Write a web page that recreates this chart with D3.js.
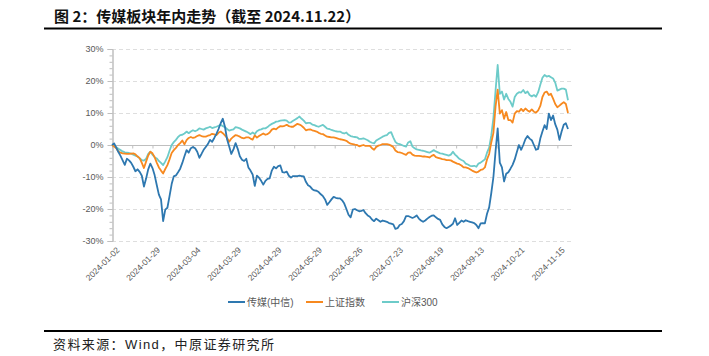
<!DOCTYPE html>
<html><head><meta charset="utf-8">
<script src="https://cdn.jsdelivr.net/npm/d3@7"></script>
<style>
html,body{margin:0;padding:0;background:#fff;}
svg{display:block;font-family:"Liberation Sans","Noto Sans CJK SC",sans-serif;}
</style></head>
<body>
<svg id="c" width="709" height="356"></svg>
<script>
// ---- data (trading-day index 0..214, 2024-01-02 .. 2024-11-22), cumulative % change ----
const tickLabels = ["2024-01-02","2024-01-29","2024-03-04","2024-03-29","2024-04-29","2024-05-29","2024-06-26","2024-07-23","2024-08-19","2024-09-13","2024-10-21","2024-11-15"];
const labelStep = 19; // trading days between labels
const seriesNames = ["传媒(中信)","上证指数","沪深300"];
const yTickValues = [30,20,10,0,-10,-20,-30];

const media = [0,0.5,-0.8,-2.2,-3.4,-4.8,-6.2,-4.3,-4.8,-5.6,
-6.8,-8.2,-7.6,-8.4,-9.6,-13.0,-10.5,-7.6,-5.8,-7.2,
-9.4,-12.5,-15.5,-17.0,-23.8,-20.2,-19.6,-16.0,-12.2,-9.8,
-9.5,-8.5,-7.4,-5.6,-3.5,-1.6,-2.4,-1.0,-0.6,-1.0,
-2.1,-4.0,-2.8,-1.5,-0.6,0.3,1.6,1.0,2.2,3.5,
5.0,6.8,8.2,5.7,1.8,-0.5,-2.8,-1.4,0.6,-1.2,
-3.5,-4.6,-5.0,-4.3,-7.0,-8.0,-9.2,-12.8,-9.6,-10.2,
-11.2,-12.4,-11.2,-10.6,-10.4,-8.0,-6.8,-7.3,-6.6,-6.4,
-8.5,-8.6,-8.3,-9.6,-10.2,-9.7,-9.7,-9.7,-9.6,-9.7,
-9.8,-11.5,-12.6,-13.0,-13.8,-14.2,-14.3,-14.7,-15.4,-16.0,
-17.0,-18.7,-17.9,-17.0,-16.2,-16.5,-16.7,-16.7,-17.3,-18.3,
-20.0,-21.8,-22.6,-20.2,-20.0,-20.4,-20.7,-20.6,-20.3,-21.3,
-22.0,-22.4,-23.3,-23.8,-23.0,-23.5,-24.0,-23.6,-23.8,-24.0,
-24.4,-24.6,-24.8,-26.2,-26.0,-25.0,-24.7,-23.8,-22.2,-22.2,
-22.5,-22.8,-22.5,-22.0,-23.0,-23.6,-24.0,-23.6,-23.0,-22.5,
-22.1,-22.0,-22.6,-23.1,-23.4,-24.8,-25.6,-26.0,-25.6,-25.2,
-24.6,-22.9,-25.0,-24.3,-23.6,-24.0,-23.5,-23.8,-24.0,-24.2,
-24.4,-25.0,-26.0,-24.5,-24.4,-24.5,-21.5,-19.5,-15.0,-10.0,
-2.0,5.2,-5.5,-7.0,-11.4,-9.0,-8.5,-7.4,-6.2,-4.5,
-2.2,0,-1.5,0,1.8,2.8,2.0,1.5,0,-1.5,
-1.2,2.0,4.2,6.2,5.0,9.8,7.8,9.2,6.5,4.8,
1.6,4.2,6.3,6.8,5.0];

const sse = [0,-0.5,-1.0,-2.0,-2.4,-2.6,-2.7,-2.8,-2.8,-2.7,
-2.6,-2.9,-3.6,-4.1,-5.6,-7.2,-5.2,-3.3,-2.1,-2.6,
-3.8,-5.5,-7.0,-8.0,-8.9,-7.5,-6.3,-4.5,-2.5,-1.6,
-0.9,0,0.6,1.4,0.2,1.5,2.2,2.5,2.2,2.4,
2.8,3.1,2.8,2.6,2.6,2.9,3.1,3.5,3.3,3.1,
3.8,4.2,3.7,3.0,2.2,1.0,2.0,2.6,3.1,2.9,
2.6,2.2,2.1,2.4,2.4,2.0,1.7,3.0,2.3,2.8,
3.2,3.6,3.2,3.4,3.9,4.8,5.1,4.9,5.5,5.9,
5.8,6.0,6.3,5.9,5.7,5.7,6.2,6.6,6.4,6.0,
5.4,4.6,4.8,4.9,4.6,4.4,4.2,3.8,3.5,3.4,
3.0,2.6,2.5,2.4,2.4,2.2,2.0,1.8,1.7,1.5,
1.3,0.8,0.4,0.3,0.1,0,-0.4,-0.2,0,-0.3,
-0.3,-0.3,-1.0,-1.5,-0.6,-0.2,0,0.3,0.3,0.3,
0.1,-0.2,-0.6,-1.7,-2.2,-2.3,-2.5,-2.8,-3.1,-2.4,
-2.3,-3.0,-3.3,-3.4,-3.4,-3.5,-3.6,-3.6,-3.7,-3.9,
-3.4,-3.1,-3.8,-4.0,-4.2,-4.4,-4.5,-4.7,-4.7,-4.8,
-5.2,-5.5,-5.8,-6.0,-6.4,-7.0,-7.0,-7.2,-7.6,-8.0,
-8.3,-8.6,-8.3,-7.8,-7.6,-7.0,-4.5,-2.8,0.8,3.8,
12.0,17.3,9.8,10.9,8.2,10.3,7.8,7.8,7.0,9.8,
10.6,10.4,11.3,10.6,11.4,10.8,10.4,11.1,10.4,10.1,
10.8,12.2,15.0,16.4,16.7,15.6,16.0,14.5,12.8,11.8,
12.3,12.9,13.4,12.8,10.0];

const hs300 = [0,-0.3,-0.7,-1.2,-1.6,-2.0,-2.3,-2.4,-2.5,-2.7,
-3.0,-3.3,-3.6,-4.2,-4.7,-4.9,-4.3,-2.8,-2.1,-3.0,
-3.8,-4.2,-5.0,-5.6,-6.3,-5.1,-3.8,-1.8,0,0.9,
1.6,2.5,3.1,3.2,3.6,4.2,3.7,4.2,4.6,4.3,
4.6,5.2,5.0,4.8,5.2,5.4,5.7,5.3,5.5,5.7,
6.0,6.3,5.9,5.6,5.0,4.5,4.7,4.9,5.6,5.4,
5.2,4.8,4.5,4.2,3.8,3.4,3.9,3.4,4.3,4.7,
4.9,5.2,5.2,5.6,6.2,6.6,6.9,7.3,7.4,7.6,
7.7,7.8,7.6,7.0,7.1,7.6,8.0,8.4,8.9,8.2,
7.6,6.8,6.9,6.9,6.4,6.2,5.9,5.7,6.0,6.3,
5.7,5.1,5.0,4.7,4.5,4.3,4.2,4.2,3.8,3.6,
3.9,3.2,2.8,2.6,2.5,2.4,1.9,1.9,2.1,1.8,
1.5,1.0,0.7,0.5,1.4,1.8,2.2,2.6,2.9,3.1,
3.8,4.0,2.4,1.0,0.4,0.3,0,-0.3,-0.5,0.8,
1.2,-0.5,-1.0,-1.4,-1.5,-1.7,-1.8,-2.0,-2.2,-2.4,
-2.0,-1.6,-2.0,-2.3,-2.6,-2.7,-2.9,-3.1,-3.3,-3.0,
-2.1,-3.0,-3.6,-4.3,-4.7,-5.0,-5.8,-6.1,-6.5,-6.6,
-6.5,-6.8,-5.8,-5.5,-5.0,-4.5,-2.4,-0.8,3.0,8.5,
17.0,25.0,16.0,16.7,14.2,16.0,14.4,13.5,12.0,15.0,
16.0,16.5,16.4,17.2,16.2,16.7,15.6,15.2,15.6,15.1,
16.5,18.8,21.0,21.9,21.4,21.6,21.2,20.8,19.5,17.0,
17.3,17.6,17.6,17.3,14.0];

const colors = ["#2e78b0","#f7891f","#6dcbc9"];

// ---- drawing ----
const svg = d3.select("#c");
const x = d3.scaleLinear().domain([0, media.length - 1]).range([112, 568]);
const y = d3.scaleLinear().domain([-30, 30]).range([241, 49]);
const plotRight = 572;

// title
svg.append("text").attr("x", 54).attr("y", 22)
  .attr("font-family", "'Noto Sans CJK SC',sans-serif").attr("font-weight", "bold")
  .attr("font-size", 15).attr("fill", "#111")
  .text("图 2：传媒板块年内走势（截至 2024.11.22）");
svg.append("line").attr("x1", 44).attr("x2", 662).attr("y1", 28.5).attr("y2", 28.5)
  .attr("stroke", "#000").attr("stroke-width", 2);

// gridlines
svg.append("g").selectAll("line").data(yTickValues.filter(v => v !== 0)).join("line")
  .attr("x1", 112).attr("x2", plotRight)
  .attr("y1", d => y(d) + 0.5).attr("y2", d => y(d) + 0.5)
  .attr("stroke", "#dedede").attr("stroke-width", 1).attr("stroke-dasharray", "4,3");

// y axis (minor ticks)
const yMinor = d3.range(-30, 31, 2);
svg.append("g").attr("transform", "translate(112.5,0)")
  .call(d3.axisLeft(y).tickValues(yMinor).tickSize(3).tickFormat(""))
  .call(g => g.selectAll("line,path").attr("stroke", "#bfbfbf"));
// y axis (major + labels)
svg.append("g").attr("transform", "translate(112.5,0)")
  .call(d3.axisLeft(y).tickValues(yTickValues).tickSize(5).tickPadding(4).tickFormat(d => d + "%"))
  .call(g => g.select(".domain").attr("stroke", "#bfbfbf"))
  .call(g => g.selectAll("line").attr("stroke", "#bfbfbf"))
  .call(g => g.selectAll("text").attr("font-size", 9).attr("fill", "#595959")
     .attr("font-family", "'Liberation Sans',sans-serif"));

// x axis at zero
const xTickVals = d3.range(0, 215, labelStep / 2);
svg.append("g").attr("transform", `translate(0,${y(0) + 0.5})`)
  .call(d3.axisBottom(x).tickValues(xTickVals).tickSize(3).tickFormat(""))
  .call(g => g.select(".domain").attr("d", `M112,0H${plotRight}`).attr("stroke", "#bfbfbf"))
  .call(g => g.selectAll("line").attr("stroke", "#bfbfbf"));

// x labels (rotated)
const labelG = svg.append("g").attr("transform", "translate(0,247)")
  .call(d3.axisBottom(x).tickValues(tickLabels.map((d, i) => i * labelStep))
        .tickSize(0).tickFormat((d, i) => tickLabels[i]));
labelG.select(".domain").remove();
labelG.selectAll("text")
  .attr("font-size", 8.5).attr("fill", "#595959").attr("font-family", "'Liberation Sans',sans-serif")
  .attr("text-anchor", "end").attr("y", 0).attr("dy", "0.6em").attr("x", 0)
  .attr("transform", "translate(4,0) rotate(-45)");

// lines
const line = d3.line().x((d, i) => x(i)).y(d => y(d));
const allSeries = [media, sse, hs300];
[2, 1, 0].forEach(k => {
  svg.append("path").datum(allSeries[k]).attr("d", line)
    .attr("fill", "none").attr("stroke", colors[k]).attr("stroke-width", 1.8)
    .attr("stroke-linejoin", "round");
});

// legend
const legendX = [228, 306, 382];
const lg = svg.append("g");
seriesNames.forEach((name, k) => {
  lg.append("line").attr("x1", legendX[k]).attr("x2", legendX[k] + 17)
    .attr("y1", 302).attr("y2", 302).attr("stroke", colors[k]).attr("stroke-width", 2);
  lg.append("text").attr("x", legendX[k] + 19).attr("y", 305.5)
    .attr("font-size", 10).attr("fill", "#595959")
    .attr("font-family", "'Liberation Sans','Noto Sans CJK SC',sans-serif").text(name);
});

// footer
svg.append("line").attr("x1", 44).attr("x2", 662).attr("y1", 331).attr("y2", 331)
  .attr("stroke", "#000").attr("stroke-width", 2);
svg.append("text").attr("x", 53).attr("y", 349)
  .attr("font-size", 13).attr("fill", "#222").attr("letter-spacing", 1.4)
  .attr("font-family", "'Liberation Sans','Noto Sans CJK SC',sans-serif")
  .text("资料来源：Wind，中原证券研究所");
</script>
</body></html>
